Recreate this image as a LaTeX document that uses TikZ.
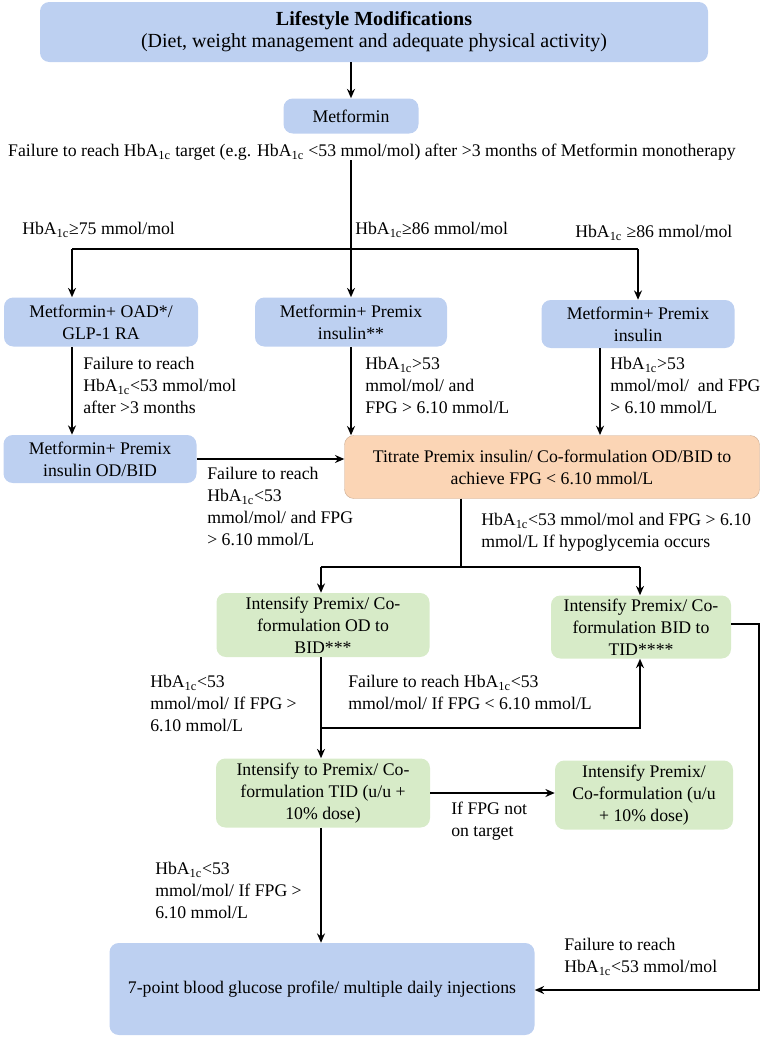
\documentclass[tikz,border=0pt]{standalone}
\usepackage{fontspec}
\setmainfont{Liberation Serif}
\usetikzlibrary{arrows.meta}
\definecolor{boxblue}{RGB}{189,208,241}
\definecolor{boxorange}{RGB}{251,213,181}
\definecolor{boxgreen}{RGB}{215,235,200}
\newcommand{\hba}{HbA\textsubscript{1c}}

\begin{document}
\begin{tikzpicture}[x=0.75pt, y=-0.75pt,
    box/.style={rectangle, rounded corners=7pt, align=center, inner sep=2pt, font=\fontsize{13.3}{16.5}\selectfont},
    blue/.style={box, fill=boxblue},
    orange/.style={box, fill=boxorange, draw=boxorange!80!black, line width=0.3pt},
    green/.style={box, fill=boxgreen},
    lbl/.style={anchor=north west, align=left, inner sep=0pt, font=\fontsize{13.3}{16.5}\selectfont},
    arrow/.style={-{Stealth[length=7pt,width=6pt]}, line width=1.5pt},
    line/.style={line width=1.5pt}
]
\useasboundingbox (0,0) rectangle (762,1039);

% ===== boxes =====
\node[blue, minimum width=668*0.75pt, minimum height=60*0.75pt] (life) at (374,32)
  {\fontsize{15}{19}\selectfont\textbf{Lifestyle Modifications}\\ \fontsize{15}{19}\selectfont(Diet, weight management and adequate physical activity)};
\node[blue, minimum width=135*0.75pt, minimum height=35*0.75pt] (met) at (351,116) {Metformin};
\node[font=\fontsize{13.3}{15}\selectfont, inner sep=0pt] (fail) at (372,152)
  {Failure to reach \hba\ target (e.g. \hba\ {<}53 mmol/mol) after {>}3 months of Metformin monotherapy};

\node[blue, minimum width=194*0.75pt, minimum height=49*0.75pt] (l1) at (101,322) {Metformin+ OAD*/\\GLP-1 RA};
\node[blue, minimum width=192*0.75pt, minimum height=49*0.75pt] (m1) at (351,322) {Metformin+ Premix\\insulin**};
\node[blue, minimum width=193*0.75pt, minimum height=48*0.75pt] (r1) at (638,324) {Metformin+ Premix\\insulin};
\node[blue, minimum width=193*0.75pt, minimum height=48*0.75pt] (l2) at (100,459) {Metformin+ Premix\\insulin OD/BID};
\node[orange, minimum width=415*0.75pt, minimum height=63*0.75pt] (tit) at (552,467)
  {Titrate Premix insulin/ Co-formulation OD/BID to\\achieve FPG {<} 6.10 mmol/L};

\node[green, minimum width=213*0.75pt, minimum height=64*0.75pt] (g1) at (323,625) {Intensify Premix/ Co-\\formulation OD to\\BID***};
\node[green, minimum width=180*0.75pt, minimum height=63*0.75pt] (g2) at (641,627) {Intensify Premix/ Co-\\formulation BID to\\TID****};
\node[green, minimum width=214*0.75pt, minimum height=69*0.75pt] (g3) at (323,793) {Intensify to Premix/ Co-\\formulation TID (u/u +\\10\% dose)};
\node[green, minimum width=178*0.75pt, minimum height=69*0.75pt] (g4) at (644,795) {Intensify Premix/\\Co-formulation (u/u\\+ 10\% dose)};
\node[blue, minimum width=425*0.75pt, minimum height=92*0.75pt] (mdi) at (322,989) {7-point blood glucose profile/ multiple daily injections};

% ===== coordinates =====
\coordinate (split) at (351,249);
\coordinate (sl) at (72,249);
\coordinate (sr) at (638,249);
\coordinate (t2) at (461,567);
\coordinate (t2l) at (321,567);
\coordinate (t2r) at (640,567);
\coordinate (b1) at (321,728);
\coordinate (b1r) at (640,728);
\coordinate (rc1) at (759,624);
\coordinate (rc2) at (759,990);

% ===== connectors =====
\draw[arrow] (life.south -| met) -- (met.north);
\draw[line] (fail.south -| split) -- (split);
\draw[line] (sl) -- (sr);
\draw[arrow] (sl) -- (sl |- l1.north);
\draw[arrow] (split) -- (m1.north);
\draw[arrow] (sr) -- (sr |- r1.north);
\draw[arrow] (l1.south -| sl) -- (sl |- l2.north);
\draw[arrow] (m1.south) -- (m1.south |- tit.north);
\draw[arrow] (600,348) -- (600,435);
\draw[arrow] (l2.east) -- (l2.east -| tit.west);
\draw[line] (t2 |- tit.south) -- (t2);
\draw[line] (t2l) -- (t2r);
\draw[arrow] (t2l) -- (t2l |- g1.north);
\draw[arrow] (t2r) -- (t2r |- g2.north);
\draw[arrow] (b1 |- g1.south) -- (b1 |- g3.north);
\draw[arrow] (b1) -- (b1r) -- (b1r |- g2.south);
\draw[arrow] (g3.east) -- (g4.west |- g3.east);
\draw[arrow] (b1 |- g3.south) -- (b1 |- mdi.north);
\draw[arrow] (g2.east |- rc1) -- (rc1) -- (rc2) -- (mdi.east |- rc2);

% ===== labels =====
\node[lbl] at (22,222) {\hba≥75 mmol/mol};
\node[lbl] at (355,222) {\hba≥86 mmol/mol};
\node[lbl] at (575,225) {\hba\ ≥86 mmol/mol};
\node[lbl] at (83,357) {Failure to reach\\\hba{<}53 mmol/mol\\after {>}3 months};
\node[lbl] at (365,357) {\hba{>}53\\mmol/mol/ and\\FPG {>} 6.10 mmol/L};
\node[lbl] at (610,357) {\hba{>}53\\mmol/mol/\ \ and FPG\\{>} 6.10 mmol/L};
\node[lbl] at (207,467) {Failure to reach\\\hba{<}53\\mmol/mol/ and FPG\\{>} 6.10 mmol/L};
\node[lbl] at (481,513) {\hba{<}53 mmol/mol and FPG {>} 6.10\\mmol/L If hypoglycemia occurs};
\node[lbl] at (150,675) {\hba{<}53\\mmol/mol/ If FPG {>}\\6.10 mmol/L};
\node[lbl] at (348,675) {Failure to reach \hba{<}53\\mmol/mol/ If FPG {<} 6.10 mmol/L};
\node[lbl] at (451,802) {If FPG not\\on target};
\node[lbl] at (155,862) {\hba{<}53\\mmol/mol/ If FPG {>}\\6.10 mmol/L};
\node[lbl] at (564,938) {Failure to reach\\\hba{<}53 mmol/mol};
\end{tikzpicture}
\end{document}
